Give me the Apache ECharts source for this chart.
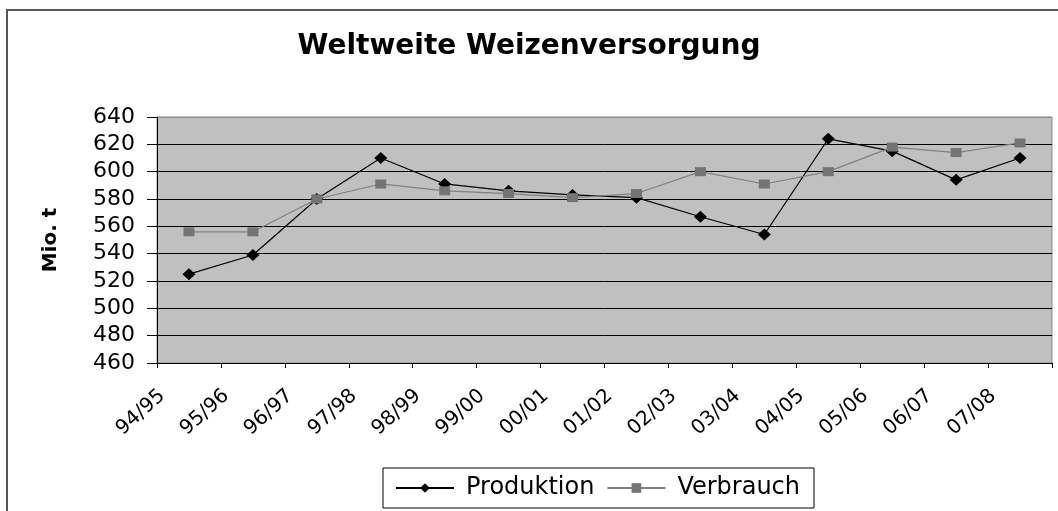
<!DOCTYPE html>
<html>
<head>
<meta charset="utf-8">
<script src="https://cdn.jsdelivr.net/npm/echarts@6/dist/echarts.min.js"></script>
<style>
  html, body { margin: 0; padding: 0; background: #fff; }
  #chart { width: 1058px; height: 511px; }
</style>
</head>
<body>
<div id="chart"></div>
<script>
var titleText = 'Weltweite Weizenversorgung';
var yAxisName = 'Mio. t';
var categories = ['94/95','95/96','96/97','97/98','98/99','99/00','00/01','01/02','02/03','03/04','04/05','05/06','06/07','07/08'];
var produktion = [525, 539, 580, 610, 591, 586, 583, 581, 567, 554, 624, 615, 594, 610];
var verbrauch  = [556, 556, 580, 591, 586, 584, 581, 584, 600, 591, 600, 618, 614, 621];
var yMin = 460, yMax = 640, yStep = 20;

var chart = echarts.init(document.getElementById('chart'), null, { renderer: 'canvas' });
var splitColors = [];
for (var v = yMin; v <= yMax; v += yStep) splitColors.push(v === yMax ? '#8a8a8a' : '#000000');

chart.setOption({
  animation: false,
  backgroundColor: '#ffffff',
  title: {
    text: titleText,
    left: 'center',
    top: 28,
    textStyle: { fontFamily: 'DejaVu Sans', fontWeight: 'bold', fontSize: 28, color: '#000' }
  },
  graphic: [{
    type: 'rect',
    shape: { x: 7, y: 10, width: 1080, height: 540 },
    style: { fill: 'none', stroke: '#555555', lineWidth: 2 },
    silent: true, z: 100
  }],
  legend: {
    left: 383, top: 468,
    padding: [8, 14, 8, 12],
    borderColor: '#000', borderWidth: 1,
    itemWidth: 58, itemHeight: 12, itemGap: 12,
    textStyle: { fontFamily: 'DejaVu Sans', fontSize: 24, color: '#000', padding: [0, 0, 0, 7] },
    data: ['Produktion', 'Verbrauch']
  },
  grid: {
    left: 157, right: 6, top: 117, bottom: 148,
    show: true, backgroundColor: '#c0c0c0', borderColor: '#8a8a8a', borderWidth: 1
  },
  xAxis: {
    type: 'category',
    data: categories,
    boundaryGap: true,
    axisLine: { lineStyle: { color: '#000', width: 1 } },
    axisTick: { show: true, length: 5, lineStyle: { color: '#000' } },
    axisLabel: {
      rotate: 42, margin: 6, interval: 0,
      padding: [0, 36, 0, 0],
      fontFamily: 'DejaVu Sans', fontSize: 20, color: '#000'
    }
  },
  yAxis: {
    type: 'value',
    min: yMin, max: yMax, interval: yStep,
    name: yAxisName,
    nameLocation: 'middle',
    nameGap: 96,
    nameTextStyle: { fontFamily: 'DejaVu Sans', fontWeight: 'bold', fontSize: 20, color: '#000' },
    axisLine: { show: true, lineStyle: { color: '#000', width: 1 } },
    axisTick: { show: true, length: 10, lineStyle: { color: '#000' } },
    axisLabel: { margin: 22, fontFamily: 'DejaVu Sans', fontSize: 22, color: '#000' },
    splitLine: { show: true, lineStyle: { color: splitColors, width: 1 } }
  },
  series: [
    {
      name: 'Produktion', type: 'line', data: produktion,
      symbol: 'diamond', symbolSize: [13, 12],
      lineStyle: { color: '#000', width: 1.2 },
      itemStyle: { color: '#000' }
    },
    {
      name: 'Verbrauch', type: 'line', data: verbrauch,
      symbol: 'rect', symbolSize: [11, 9],
      lineStyle: { color: '#808080', width: 1.2 },
      itemStyle: { color: '#747474' }
    }
  ]
});
</script>
</body>
</html>
